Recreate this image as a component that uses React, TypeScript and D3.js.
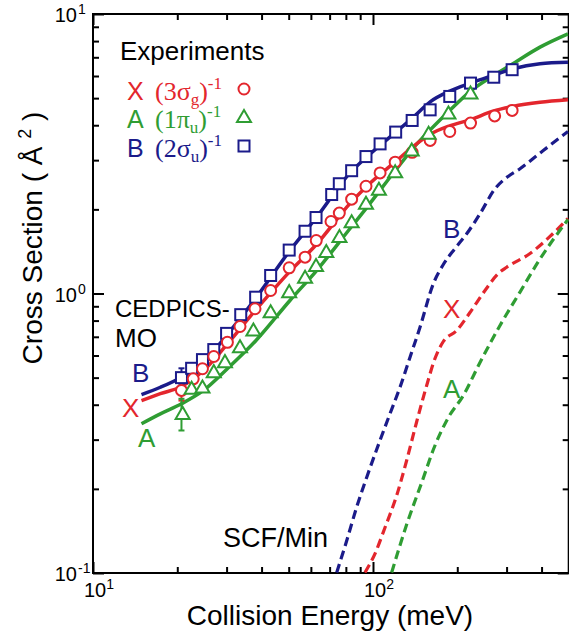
import React, { useEffect, useRef } from 'react';
import * as d3 from 'd3';

// energies in meV, cross sections in Å^2

// experiments (open markers)
const expEnergyX = [20.7, 22.8, 24.6, 27.0, 30.2, 33.5, 37.9, 43.1, 50.2, 57.2, 62.7, 70.8, 75.8, 83.9, 94.4, 106, 120, 138, 160, 188, 223, 272, 314];
const expSigmaX = [0.45, 0.495, 0.538, 0.595, 0.669, 0.762, 0.882, 1.025, 1.236, 1.349, 1.547, 1.81, 1.94, 2.175, 2.42, 2.70, 2.95, 3.20, 3.53, 3.80, 4.07, 4.32, 4.52];
const expEnergyA = [20.9, 22.5, 24.6, 27.0, 29.6, 33.5, 37.4, 43.1, 50.2, 57.2, 62.6, 68.1, 75.9, 83.9, 94.4, 105, 120, 137.5, 158, 186, 223];
const expSigmaA = [0.371, 0.456, 0.461, 0.523, 0.568, 0.642, 0.737, 0.857, 1.011, 1.138, 1.254, 1.408, 1.593, 1.799, 2.094, 2.35, 2.716, 3.249, 3.728, 4.406, 5.195];
const expEnergyB = [20.7, 22.5, 24.6, 27.0, 30.0, 33.7, 38.1, 43.1, 50.2, 57.2, 62.6, 71.2, 75.8, 83.9, 94.4, 106, 120.5, 138, 160, 188, 223, 270, 314];
const expSigmaB = [0.50, 0.54, 0.58, 0.63, 0.72, 0.84, 0.97, 1.16, 1.43, 1.67, 1.87, 2.26, 2.47, 2.75, 3.09, 3.43, 3.78, 4.16, 4.54, 5.07, 5.66, 5.94, 6.32];

// error bars on the lowest energy point
const errEnergy = 20.7;
const errX = [0.414, 0.49];
const errA = [0.3235, 0.42];
const errB = [0.47, 0.54];

// CEDPICS-MO (solid)
const calcEnergy = [14.9, 17.4, 20.7, 24.8, 30.0, 38.2, 50.5, 62.9, 82.8, 95.0, 121.5, 138.5, 160, 188, 223, 268, 316, 395, 497];
const cedpicsX = [0.414, 0.438, 0.465, 0.530, 0.655, 0.875, 1.20, 1.50, 2.10, 2.42, 2.99, 3.34, 3.71, 3.98, 4.19, 4.49, 4.67, 4.83, 4.93];
const cedpicsA = [0.342, 0.371, 0.403, 0.450, 0.535, 0.679, 0.944, 1.208, 1.708, 2.03, 2.794, 3.294, 3.85, 4.52, 5.30, 6.00, 6.64, 7.61, 8.49];
const cedpicsB = [0.435, 0.462, 0.502, 0.568, 0.708, 0.965, 1.425, 1.875, 2.70, 3.08, 3.80, 4.25, 4.85, 5.30, 5.66, 6.03, 6.37, 6.64, 6.72];

// SCF/Min (dashed)
const scfEnergyX = [93.6, 101.7, 110.4, 121.5, 131.9, 143.3, 155.5, 166.5, 178.3, 199, 222, 251.2, 280.3, 300.3, 363.8, 428.7, 497];
const scfX = [0.1004, 0.1174, 0.1455, 0.1894, 0.2527, 0.3484, 0.4688, 0.5855, 0.6734, 0.7374, 0.855, 1.025, 1.179, 1.242, 1.390, 1.600, 1.855];
const scfEnergyA = [116.6, 131.9, 149.3, 166.5, 185.8, 210.1, 241.1, 284.2, 335, 394.9, 497];
const scfA = [0.1004, 0.1491, 0.2108, 0.2859, 0.36, 0.4315, 0.5665, 0.7685, 1.012, 1.329, 1.84];
const scfEnergyB = [74.2, 80.6, 87.4, 95.0, 105.9, 115.0, 124.9, 135.6, 147.2, 164.2, 178.3, 196.3, 216.1, 241.1, 272.8, 296.1, 335, 405.7, 497];
const scfB = [0.1004, 0.1307, 0.1719, 0.2202, 0.2978, 0.3712, 0.4622, 0.5917, 0.7575, 1.083, 1.270, 1.449, 1.635, 1.929, 2.370, 2.573, 2.794, 3.249, 3.799];

// ticks
const xMajor = [10, 100];
const xMajorExp = ['1', '2'];
const xMinor = [20, 30, 40, 50, 60, 70, 80, 90, 200, 300, 400];
const yMajor = [0.1, 1, 10];
const yMajorExp = ['-1', '0', '1'];
const yMinor = [0.2, 0.3, 0.4, 0.5, 0.6, 0.7, 0.8, 0.9, 2, 3, 4, 5, 6, 7, 8, 9];

const RED = '#e3262d';
const GREEN = '#2f9d33';
const NAVY = '#1b1b8a';
const SANS = 'Liberation Sans, Arial, sans-serif';
const SERIF = 'Liberation Serif, Times New Roman, serif';

export default function App() {
    const ref = useRef<SVGSVGElement>(null);

    useEffect(() => {
        const width = 569;
        const height = 633;
        const svg = d3.select(ref.current).attr('width', width).attr('height', height);
        svg.selectAll('*').remove();

        const x = d3.scaleLog().domain([10, 500]).range([93, 568.7]);
        const y = d3.scaleLog().domain([0.1, 10]).range([573, 14]);
        const [x0, x1] = x.range();
        const [y0, y1] = y.range();

        svg.append('rect').attr('width', width).attr('height', height).attr('fill', '#fff');

        svg.append('clipPath').attr('id', 'plot')
            .append('rect').attr('x', x0).attr('y', y1).attr('width', x1 - x0).attr('height', y0 - y1);

        // ticks, all pointing inward
        const tickAxis = (axis: any, tr: string) => {
            const g = svg.append('g').attr('transform', tr).call(axis);
            g.select('.domain').remove();
            g.selectAll('line').attr('stroke', '#000').attr('stroke-width', 2);
            g.selectAll('text').remove();
        };
        tickAxis(d3.axisBottom(x).tickValues(xMajor).tickSize(-11), `translate(0,${y0})`);
        tickAxis(d3.axisBottom(x).tickValues(xMinor).tickSize(-6), `translate(0,${y0})`);
        tickAxis(d3.axisTop(x).tickValues(xMajor).tickSize(-11), `translate(0,${y1})`);
        tickAxis(d3.axisTop(x).tickValues(xMinor).tickSize(-6), `translate(0,${y1})`);
        tickAxis(d3.axisLeft(y).tickValues(yMajor).tickSize(-11), `translate(${x0},0)`);
        tickAxis(d3.axisLeft(y).tickValues(yMinor).tickSize(-6), `translate(${x0},0)`);
        tickAxis(d3.axisRight(y).tickValues(yMajor).tickSize(-11), `translate(${x1},0)`);
        tickAxis(d3.axisRight(y).tickValues(yMinor).tickSize(-6), `translate(${x1},0)`);

        svg.append('rect')
            .attr('x', x0).attr('y', y1).attr('width', x1 - x0).attr('height', y0 - y1)
            .attr('fill', 'none').attr('stroke', '#000').attr('stroke-width', 2);

        // tick labels 10^n
        xMajor.forEach((v, i) => {
            const t = svg.append('text').attr('x', x(v) - 9).attr('y', 597)
                .attr('font-family', SANS).attr('font-size', 20).text('10');
            t.append('tspan').attr('dy', -8).attr('font-size', 14).text(xMajorExp[i]);
        });
        yMajor.forEach((v, i) => {
            const ty = y(v) + 8;
            svg.append('text').attr('x', 77).attr('y', ty).attr('text-anchor', 'end')
                .attr('font-family', SANS).attr('font-size', 20).text('10');
            svg.append('text').attr('x', 78).attr('y', ty - 8)
                .attr('font-family', SANS).attr('font-size', 14).text(yMajorExp[i]);
        });

        // axis titles
        svg.append('text').attr('x', 330).attr('y', 625).attr('text-anchor', 'middle')
            .attr('font-family', SANS).attr('font-size', 28).text('Collision Energy (meV)');
        const yt = svg.append('text').attr('transform', 'translate(42,238) rotate(-90)')
            .attr('text-anchor', 'middle').attr('font-family', SANS).attr('font-size', 28);
        yt.append('tspan').text('Cross Section ( Å ');
        yt.append('tspan').attr('dy', -11).attr('font-size', 18).text('2');
        yt.append('tspan').attr('dy', 11).text(' )');

        const plot = svg.append('g').attr('clip-path', 'url(#plot)');
        const line = d3.line<[number, number]>()
            .x(d => x(d[0])).y(d => y(d[1])).curve(d3.curveMonotoneX);
        const zip = (a: number[], b: number[]) => a.map((v, i) => [v, b[i]] as [number, number]);

        // SCF/Min dashed
        [[scfEnergyB, scfB, NAVY], [scfEnergyX, scfX, RED], [scfEnergyA, scfA, GREEN]].forEach(([e, s, c]: any) => {
            plot.append('path').attr('d', line(zip(e, s))).attr('fill', 'none')
                .attr('stroke', c).attr('stroke-width', 3.2).attr('stroke-dasharray', '9,5');
        });

        // CEDPICS-MO solid
        [[cedpicsA, GREEN], [cedpicsX, RED], [cedpicsB, NAVY]].forEach(([s, c]: any) => {
            plot.append('path').attr('d', line(zip(calcEnergy, s))).attr('fill', 'none')
                .attr('stroke', c).attr('stroke-width', 3.5);
        });

        // error bars
        [[errX, RED], [errA, GREEN], [errB, NAVY]].forEach(([r, c]: any) => {
            const ex = x(errEnergy);
            const g = plot.append('g').attr('stroke', c).attr('stroke-width', 2);
            g.append('line').attr('x1', ex).attr('x2', ex).attr('y1', y(r[0])).attr('y2', y(r[1]));
            g.append('line').attr('x1', ex - 3).attr('x2', ex + 3).attr('y1', y(r[0])).attr('y2', y(r[0]));
            g.append('line').attr('x1', ex - 3).attr('x2', ex + 3).attr('y1', y(r[1])).attr('y2', y(r[1]));
        });

        // markers
        const tri = d3.symbol().type(d3.symbolTriangle).size(85);
        const drawCircle = (g: any, cx: number, cy: number) =>
            g.append('circle').attr('cx', cx).attr('cy', cy).attr('r', 5.5)
                .attr('fill', '#fff').attr('stroke', RED).attr('stroke-width', 2);
        const drawTri = (g: any, cx: number, cy: number) =>
            g.append('path').attr('d', tri()).attr('transform', `translate(${cx},${cy + 1})`)
                .attr('fill', '#fff').attr('stroke', GREEN).attr('stroke-width', 2);
        const drawSquare = (g: any, cx: number, cy: number) =>
            g.append('rect').attr('x', cx - 5.5).attr('y', cy - 5.5).attr('width', 11).attr('height', 11)
                .attr('fill', '#fff').attr('stroke', NAVY).attr('stroke-width', 2);

        expEnergyB.forEach((e, i) => drawSquare(plot, x(e), y(expSigmaB[i])));
        expEnergyX.forEach((e, i) => drawCircle(plot, x(e), y(expSigmaX[i])));
        expEnergyA.forEach((e, i) => drawTri(plot, x(e), y(expSigmaA[i])));

        // legend
        svg.append('text').attr('x', 120).attr('y', 60).attr('font-family', SANS)
            .attr('font-size', 26).text('Experiments');
        const rows = [
            { key: 'X', num: '(3σ', sub: 'g', color: RED, yb: 100, mark: drawCircle },
            { key: 'A', num: '(1π', sub: 'u', color: GREEN, yb: 128, mark: drawTri },
            { key: 'B', num: '(2σ', sub: 'u', color: NAVY, yb: 157, mark: drawSquare },
        ];
        rows.forEach(r => {
            svg.append('text').attr('x', 127).attr('y', r.yb).attr('font-family', SANS)
                .attr('font-size', 25).attr('fill', r.color).text(r.key);
            const t = svg.append('text').attr('x', 155).attr('y', r.yb).attr('font-family', SERIF)
                .attr('font-size', 26).attr('fill', r.color);
            t.append('tspan').text(r.num);
            t.append('tspan').attr('dy', 5).attr('font-size', 17).text(r.sub);
            t.append('tspan').attr('dy', -5).text(')');
            t.append('tspan').attr('dy', -11).attr('font-size', 17).text('-1');
            r.mark(svg, 244, r.yb - 11);
        });

        // annotations
        const note = (tx: number, ty: number, s: string, c: string, fs: number) =>
            svg.append('text').attr('x', tx).attr('y', ty).attr('font-family', SANS)
                .attr('font-size', fs).attr('fill', c).text(s);
        note(115, 317, 'CEDPICS-', '#000', 24);
        note(115, 347, 'MO', '#000', 26);
        note(132, 382, 'B', NAVY, 26);
        note(122, 417, 'X', RED, 26);
        note(138, 447, 'A', GREEN, 26);
        note(443, 238, 'B', NAVY, 26);
        note(443, 318, 'X', RED, 26);
        note(443, 398, 'A', GREEN, 26);
        note(223, 547, 'SCF/Min', '#000', 27);
    }, []);

    return (
        <div>
            <svg ref={ref} style={{ position: 'absolute', left: 0, top: 0 }} />
        </div>
    );
}
